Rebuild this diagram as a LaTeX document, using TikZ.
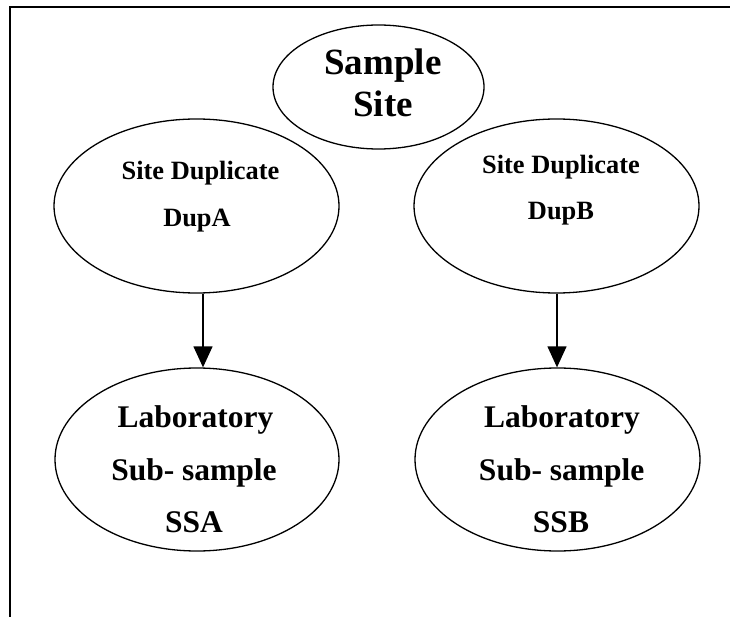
\documentclass[tikz,border=0pt]{standalone}
\usepackage{fontspec}
\setmainfont{Liberation Serif}
\usetikzlibrary{shapes.geometric,arrows.meta}
\tikzset{
  oval/.style={draw=black,ellipse,line width=1.3pt,inner sep=0pt},
  txtA/.style={anchor=base,inner sep=0pt,font=\fontsize{37}{42}\selectfont\bfseries},
  txtB/.style={anchor=base,inner sep=0pt,font=\fontsize{26.4}{30}\selectfont\bfseries},
  txtC/.style={anchor=base,inner sep=0pt,font=\fontsize{31.5}{36}\selectfont\bfseries},
  arr/.style={line width=1.3pt,-{Triangle[length=21pt,width=19pt]}},
  frame/.style={line width=2pt}
}
\begin{document}
\begin{tikzpicture}[x=1pt,y=-1pt]
\useasboundingbox (0,0) rectangle (730,617);
\draw[frame] (730,7) -- (9.5,7) -- (9.5,617);
% ellipses
\node[oval,minimum width=211pt,minimum height=124pt] (site) at (378.5,87) {};
\node[oval,minimum width=285pt,minimum height=174pt] (dupA) at (196.5,206) {};
\node[oval,minimum width=285pt,minimum height=174pt] (dupB) at (556.5,206) {};
\node[oval,minimum width=284pt,minimum height=183pt] (ssA) at (197,459.5) {};
\node[oval,minimum width=285pt,minimum height=183pt] (ssB) at (557.5,459.5) {};
% texts
\node[txtA] (siteT1) at (383,75) {Sample};
\node[txtA] (siteT2) at (383,116.7) {Site};
\node[txtB] (dupAT1) at (200.5,179.3) {Site Duplicate};
\node[txtB] (dupAT2) at (197,226.7) {DupA};
\node[txtB] (dupBT1) at (561,173.3) {Site Duplicate};
\node[txtB] (dupBT2) at (561,220) {DupB};
\node[txtC] (ssAT1) at (195.5,427.7) {Laboratory};
\node[txtC] (ssAT2) at (194,480) {Sub- sample};
\node[txtC] (ssAT3) at (194,532.3) {SSA};
\node[txtC] (ssBT1) at (562,427.7) {Laboratory};
\node[txtC] (ssBT2) at (561.7,480) {Sub- sample};
\node[txtC] (ssBT3) at (561,532.3) {SSB};
% arrows
\draw[arr] ([xshift=6.5pt]dupA.south) -- ([xshift=6pt]ssA.north);
\draw[arr] ([xshift=0.5pt]dupB.south) -- ([xshift=-0.5pt]ssB.north);
\end{tikzpicture}
\end{document}
